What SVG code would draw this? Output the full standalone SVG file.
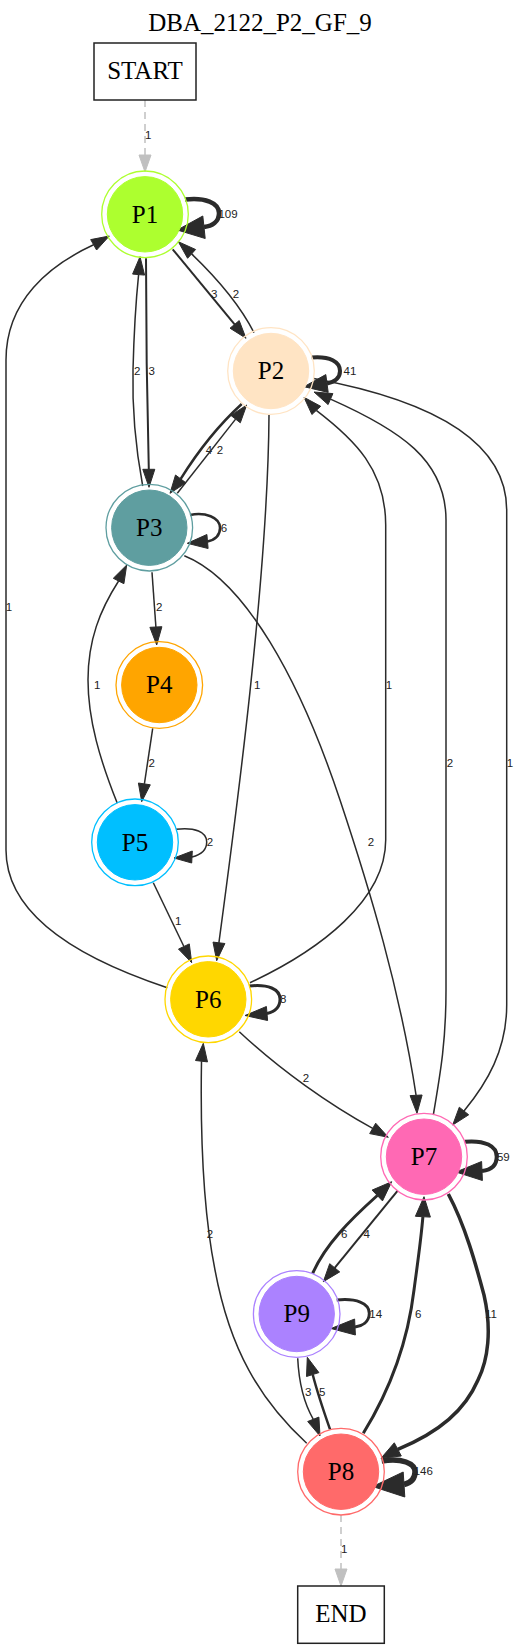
<svg xmlns="http://www.w3.org/2000/svg" width="522" height="1650" viewBox="0 0 522 1650">
<style>
.e{fill:none;stroke:#2b2b2b;stroke-width:1.5}
.ah{fill:#2b2b2b;stroke:#2b2b2b;stroke-width:1}
.d{fill:none;stroke:#c0c0c0;stroke-width:1.5;stroke-dasharray:7,5}
.dah{fill:#c0c0c0;stroke:#c0c0c0}
.el{font-family:"Liberation Sans",Arial,sans-serif;font-size:11.5px;fill:#222;text-anchor:middle}
.nl{font-family:"Liberation Serif","Times New Roman",serif;font-size:25px;fill:#000;text-anchor:middle}
.box{fill:#fff;stroke:#222;stroke-width:1.5}
</style>
<rect width="522" height="1650" fill="#fff"/>
<text class="nl" x="260" y="31">DBA_2122_P2_GF_9</text>
<g id="edges">
 <g><path class="d" d="M145,100 L145,155"/><polygon class="dah" points="145,172 139,155 151,155"/><text class="el" x="148.3" y="139">1</text></g>
 <g><path class="e" style="stroke-width:4.5" d="M185,199.5 C205,197 219,203 219,213 C219,222 212,226 204,227"/><polygon class="ah" points="177.3,230 205.2,238.5 202.8,216"/><text class="el" x="228" y="217.5">109</text></g>
 <g><path class="e" style="stroke-width:2" d="M172.7,249.3 L234.6,324.4"/><polygon class="ah" points="246,338.3 230,328.2 239.2,320.6"/><text class="el" x="214.3" y="297.5">3</text></g>
 <g><path class="e" d="M254,332.7 C242,309 222,283 191.6,253.9"/><polygon class="ah" points="178.3,241.7 195.6,249.5 187.6,258.3"/><text class="el" x="236" y="297.5">2</text></g>
 <g><path class="e" style="stroke-width:2" d="M146,258.3 C146,330 147.5,420 148.8,469.3"/><polygon class="ah" points="149,487.3 142.8,469.3 154.8,469.3"/><text class="el" x="151.7" y="375">3</text></g>
 <g><path class="e" d="M142.7,486 C136,450 132,410 133,370 C134,330 136,300 138.6,274.6"/><polygon class="ah" points="140,256.7 144.6,275.1 132.6,274.1"/><text class="el" x="137.3" y="375">2</text></g>
 <g><path class="e" style="stroke-width:4" d="M311.7,357.5 C330,356 340,362 340,371 C340,379 334,382 327,383.5"/><polygon class="ah" points="304,386.7 325.8,374.6 328.2,392.4"/><text class="el" x="350" y="375">41</text></g>
 <g><path class="e" style="stroke-width:2.5" d="M241.7,404 C222,422 200,448 180.7,478.9"/><polygon class="ah" points="170,493.3 175.5,475 185.9,482.8"/><text class="el" x="209" y="454">4</text></g>
 <g><path class="e" d="M177.3,493.3 L235.6,419.1"/><polygon class="ah" points="246.7,405 240.3,422.8 230.9,415.4"/><text class="el" x="220" y="454">2</text></g>
 <g><path class="e" d="M269,415 C268,580 234,830 218.9,942.8"/><polygon class="ah" points="216.7,960.7 224.9,943.5 213,942.1"/><text class="el" x="257.3" y="689">1</text></g>
 <g><path class="e" d="M313.7,378.5 C430,400 506.7,440 506.7,510 L506.7,1005 C506.7,1050 487,1083 464,1111"/><polygon class="ah" points="452.7,1125 459.3,1107.2 468.7,1114.8"/><text class="el" x="510" y="767.3">1</text></g>
 <g><path class="e" d="M433.3,1115 C441,1070 446,1040 446,990 L446,520 C446,460 400,430 330.5,399.1"/><polygon class="ah" points="314,392 332.9,393.6 328.1,404.6"/><text class="el" x="450" y="767.3">2</text></g>
 <g><path class="e" d="M250,982.7 C320,950 385.7,900 385.7,840 L385.7,525 C385.7,470 355,440 316.3,410.4"/><polygon class="ah" points="304,397.3 320.7,406.3 311.9,414.5"/><text class="el" x="389" y="689">1</text></g>
 <g><path class="e" d="M167.3,987.7 C90,962 6,920 6,850 L6,360 C6,300 50,265 93.6,244.8"/><polygon class="ah" points="109.3,236 96.6,250 90.7,239.6"/><text class="el" x="9" y="610.7">1</text></g>
 <g><path class="e" style="stroke-width:2.5" d="M190,515 C205,512 220,517 220,528 C220,537 214,540 207.5,541.5"/><polygon class="ah" points="187.3,543.3 206.9,534.5 208.1,548.5"/><text class="el" x="224" y="531.7">6</text></g>
 <g><path class="e" d="M152,572.3 L155.9,627"/><polygon class="ah" points="156.7,645 149.9,627.3 161.9,626.7"/><text class="el" x="159.3" y="610.7">2</text></g>
 <g><path class="e" d="M184.3,555.7 C245,580 300,680 340,800 C370,890 400,990 416.1,1095.3"/><polygon class="ah" points="417,1113.3 410.1,1095.6 422.1,1095"/><text class="el" x="371" y="845.7">2</text></g>
 <g><path class="e" d="M152.7,728.3 L144.4,783.9"/><polygon class="ah" points="141.7,801.7 150.3,784.8 138.4,783"/><text class="el" x="151.7" y="767.3">2</text></g>
 <g><path class="e" d="M117.3,803.3 C100,760 88,720 88,680 C88,640 100,610 118.6,581"/><polygon class="ah" points="126.7,565 123.9,583.7 113.3,578.3"/><text class="el" x="97.3" y="689">1</text></g>
 <g><path class="e" d="M176,829.3 C195,827 206.7,832 206.7,842 C206.7,851 200,855 192,857"/><polygon class="ah" points="174,858 192.3,851 191.7,863"/><text class="el" x="210" y="846">2</text></g>
 <g><path class="e" d="M153.3,882.7 L183.9,946.5"/><polygon class="ah" points="191.7,962.7 178.5,949.1 189.3,943.9"/><text class="el" x="178.3" y="924.7">1</text></g>
 <g><path class="e" style="stroke-width:3" d="M249.3,986 C268,984 280,989 280,999 C280,1008 274,1012 267,1013.5"/><polygon class="ah" points="245,1015.5 266.4,1006.5 267.6,1020.5"/><text class="el" x="283.3" y="1003">8</text></g>
 <g><path class="e" d="M239.3,1031.7 C280,1070 330,1105 372.7,1128.4"/><polygon class="ah" points="388.3,1137.3 369.7,1133.6 375.7,1123.2"/><text class="el" x="306" y="1081.7">2</text></g>
 <g><path class="e" style="stroke-width:4" d="M465,1141.7 C485,1140 496.7,1146 496.7,1156.7 C496.7,1166 490,1170 482,1171"/><polygon class="ah" points="456,1172 481.6,1161.5 482.4,1180.5"/><text class="el" x="503.3" y="1160.7">59</text></g>
 <g><path class="e" style="stroke-width:2" d="M397.7,1190.7 L334.7,1267.8"/><polygon class="ah" points="323.3,1281.7 329.7,1263.7 339.7,1271.9"/><text class="el" x="366.7" y="1238.3">4</text></g>
 <g><path class="e" style="stroke-width:3" d="M312.7,1273.3 C325,1245 350,1220 377.3,1195.5"/><polygon class="ah" points="391.7,1181.7 382.5,1200.9 372.1,1190.1"/><text class="el" x="344.3" y="1238.3">6</text></g>
 <g><path class="e" style="stroke-width:3.5" d="M448.3,1194 C465,1225 476,1265 484,1295 C492,1330 488,1360 478,1380 C465,1410 440,1432 397.8,1449.4"/><polygon class="ah" points="381,1458.3 394.3,1442.8 401.3,1456"/><text class="el" x="491" y="1318">11</text></g>
 <g><path class="e" style="stroke-width:3" d="M363.3,1433.3 C390,1390 408,1340 414,1290 C418,1260 421,1240 422.9,1216.7"/><polygon class="ah" points="424,1196.7 415.4,1216.3 430.4,1217.1"/><text class="el" x="418.3" y="1318">6</text></g>
 <g><path class="e" style="stroke-width:3" d="M336.7,1300 C356,1298 369.3,1303 369.3,1313.3 C369.3,1322 362,1326 355,1327"/><polygon class="ah" points="331,1328.5 354.6,1319 355.4,1335"/><text class="el" x="375.7" y="1318">14</text></g>
 <g><path class="e" d="M297.7,1358.3 C299,1385 305,1405 313.3,1419.3"/><polygon class="ah" points="320,1436 307.7,1421.5 318.9,1417.1"/><text class="el" x="308.3" y="1396.3">3</text></g>
 <g><path class="e" style="stroke-width:2.5" d="M330,1429.3 C325,1415 318,1395 312.7,1374.5"/><polygon class="ah" points="307.3,1357.3 318.9,1372.6 306.5,1376.5"/><text class="el" x="322.3" y="1396.3">5</text></g>
 <g><path class="e" style="stroke-width:5.5" d="M381.7,1461 C402,1458 415,1463 415,1472 C415,1480 410,1483 404,1484.5"/><polygon class="ah" points="372.7,1486.5 403.2,1472 404.8,1497"/><text class="el" x="423.3" y="1474.7">146</text></g>
 <g><path class="e" d="M306.7,1443.3 C260,1400 230,1350 215,1270 C205,1220 200,1150 201.5,1061.2"/><polygon class="ah" points="203.3,1043.3 207.5,1061.9 195.5,1060.5"/><text class="el" x="210" y="1238.3">2</text></g>
 <g><path class="d" d="M341,1515 L341,1569"/><polygon class="dah" points="341,1586 335,1569 347,1569"/><text class="el" x="344.3" y="1553">1</text></g>
</g>
<g id="START"><rect class="box" x="94" y="43" width="102" height="57"/><text class="nl" x="145" y="78.5">START</text></g>
<g id="P1"><circle cx="145" cy="214.3" r="43.3" fill="none" stroke="#adff2f" stroke-width="1.3"/><circle cx="145" cy="214.3" r="37.7" fill="#adff2f" stroke="#adff2f"/><text class="nl" x="145" y="222.5">P1</text></g>
<g id="P2"><circle cx="271" cy="371" r="43.3" fill="none" stroke="#ffe4c4" stroke-width="1.3"/><circle cx="271" cy="371" r="37.7" fill="#ffe4c4" stroke="#ffe4c4"/><text class="nl" x="271" y="379.2">P2</text></g>
<g id="P3"><circle cx="149.3" cy="527.7" r="43.3" fill="none" stroke="#5f9ea0" stroke-width="1.3"/><circle cx="149.3" cy="527.7" r="37.7" fill="#5f9ea0" stroke="#5f9ea0"/><text class="nl" x="149.3" y="535.9">P3</text></g>
<g id="P4"><circle cx="159.3" cy="685" r="43.3" fill="none" stroke="#ffa500" stroke-width="1.3"/><circle cx="159.3" cy="685" r="37.7" fill="#ffa500" stroke="#ffa500"/><text class="nl" x="159.3" y="693.2">P4</text></g>
<g id="P5"><circle cx="135" cy="842.3" r="43.3" fill="none" stroke="#00bfff" stroke-width="1.3"/><circle cx="135" cy="842.3" r="37.7" fill="#00bfff" stroke="#00bfff"/><text class="nl" x="135" y="850.5">P5</text></g>
<g id="P6"><circle cx="208.3" cy="999.3" r="43.3" fill="none" stroke="#ffd700" stroke-width="1.3"/><circle cx="208.3" cy="999.3" r="37.7" fill="#ffd700" stroke="#ffd700"/><text class="nl" x="208.3" y="1007.5">P6</text></g>
<g id="P7"><circle cx="424" cy="1156.7" r="43.3" fill="none" stroke="#ff69b4" stroke-width="1.3"/><circle cx="424" cy="1156.7" r="37.7" fill="#ff69b4" stroke="#ff69b4"/><text class="nl" x="424" y="1164.9">P7</text></g>
<g id="P9"><circle cx="296.7" cy="1314" r="43.3" fill="none" stroke="#ab82ff" stroke-width="1.3"/><circle cx="296.7" cy="1314" r="37.7" fill="#ab82ff" stroke="#ab82ff"/><text class="nl" x="296.7" y="1322.2">P9</text></g>
<g id="P8"><circle cx="341" cy="1471.7" r="43.3" fill="none" stroke="#ff6a6a" stroke-width="1.3"/><circle cx="341" cy="1471.7" r="37.7" fill="#ff6a6a" stroke="#ff6a6a"/><text class="nl" x="341" y="1479.9">P8</text></g>
<g id="END"><rect class="box" x="297.7" y="1586" width="86.6" height="57.3"/><text class="nl" x="341" y="1622">END</text></g>
</svg>
